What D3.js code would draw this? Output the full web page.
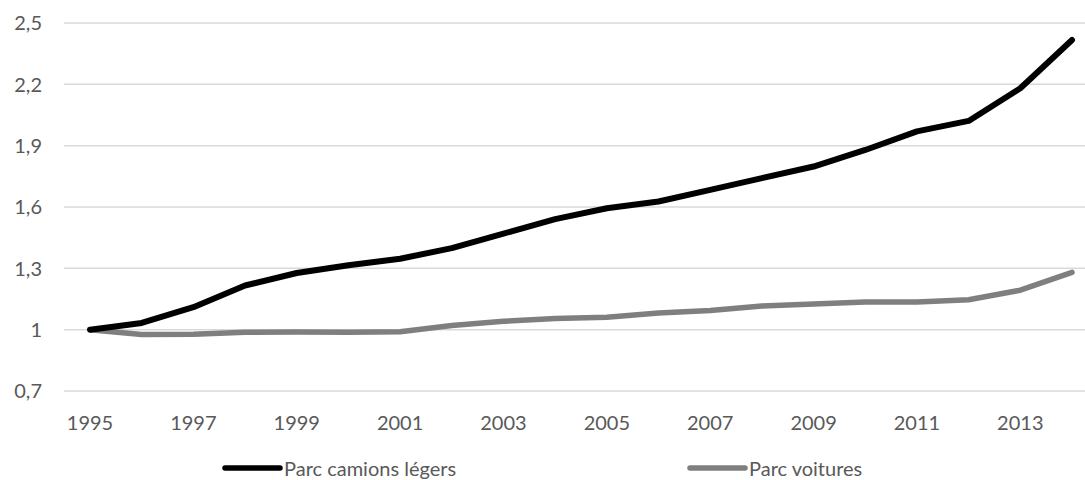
<!DOCTYPE html>
<html lang="fr">
<head>
    <meta charset="UTF-8">
    <title>Parc camions légers et voitures</title>
    <style>
        body {
            margin: 0;
            background-color: #fff;
        }
        svg text {
            font-family: Lato, "Open Sans", sans-serif;
            font-size: 20px;
            fill: #595959;
        }
    </style>
    <script src="https://d3js.org/d3.v7.min.js"></script>
</head>
<body>
    <svg id="chart" width="1085" height="480"></svg>
    <script>
        // Years on the x axis
        const years = [1995, 1996, 1997, 1998, 1999, 2000, 2001, 2002, 2003, 2004,
                       2005, 2006, 2007, 2008, 2009, 2010, 2011, 2012, 2013, 2014];

        // Index 1995 = 1
        const camions = [1.000, 1.033, 1.110, 1.216, 1.277, 1.315, 1.347, 1.399, 1.470, 1.541,
                         1.594, 1.627, 1.684, 1.741, 1.798, 1.879, 1.970, 2.021, 2.181, 2.417];
        const voitures = [1.000, 0.976, 0.977, 0.987, 0.988, 0.987, 0.990, 1.020, 1.041, 1.055,
                          1.061, 1.081, 1.094, 1.116, 1.125, 1.135, 1.135, 1.146, 1.193, 1.280];

        const yTicks = [0.7, 1, 1.3, 1.6, 1.9, 2.2, 2.5];
        const xTickYears = years.filter((d, i) => i % 2 === 0);

        const seriesNames = ["Parc camions légers", "Parc voitures"];
        const seriesColors = ["#000000", "#7f7f7f"];

        const svg = d3.select("#chart");

        const x = d3.scaleLinear().domain([1995, 2014]).range([90, 1072]);
        const y = d3.scaleLinear().domain([0.7, 2.5]).range([391, 23]);

        const fmt = v => String(v).replace(".", ",");

        // Horizontal gridlines
        svg.append("g")
            .selectAll("line")
            .data(yTicks)
            .enter().append("line")
            .attr("x1", 64)
            .attr("x2", 1085)
            .attr("y1", d => y(d))
            .attr("y2", d => y(d))
            .attr("stroke", "#d9d9d9")
            .attr("stroke-width", 1.5);

        // Y labels
        svg.append("g")
            .selectAll("text")
            .data(yTicks)
            .enter().append("text")
            .attr("x", 42)
            .attr("y", d => y(d))
            .attr("dy", "0.36em")
            .attr("text-anchor", "end")
            .text(d => fmt(d));

        // X labels
        svg.append("g")
            .selectAll("text")
            .data(xTickYears)
            .enter().append("text")
            .attr("x", d => x(d))
            .attr("y", 430)
            .attr("text-anchor", "middle")
            .text(d => d);

        const line = d3.line()
            .x((d, i) => x(years[i]))
            .y(d => y(d));

        // Draw grey first so black sits on top at the start
        [[voitures, seriesColors[1], 5.5], [camions, seriesColors[0], 6]].forEach(([vals, col, w]) => {
            svg.append("path")
                .datum(vals)
                .attr("d", line)
                .attr("fill", "none")
                .attr("stroke", col)
                .attr("stroke-width", w)
                .attr("stroke-linejoin", "round")
                .attr("stroke-linecap", "round");
        });

        // Legend
        const legendX = [225, 690];
        const legend = svg.append("g")
            .selectAll("g")
            .data(seriesNames)
            .enter().append("g")
            .attr("transform", (d, i) => `translate(${legendX[i]},468)`);

        legend.append("line")
            .attr("x1", 0)
            .attr("x2", 55)
            .attr("stroke", (d, i) => seriesColors[i])
            .attr("stroke-width", 5.5)
            .attr("stroke-linecap", "round");

        legend.append("text")
            .attr("x", 59)
            .attr("y", 8)
            .text(d => d);
    </script>
</body>
</html>
